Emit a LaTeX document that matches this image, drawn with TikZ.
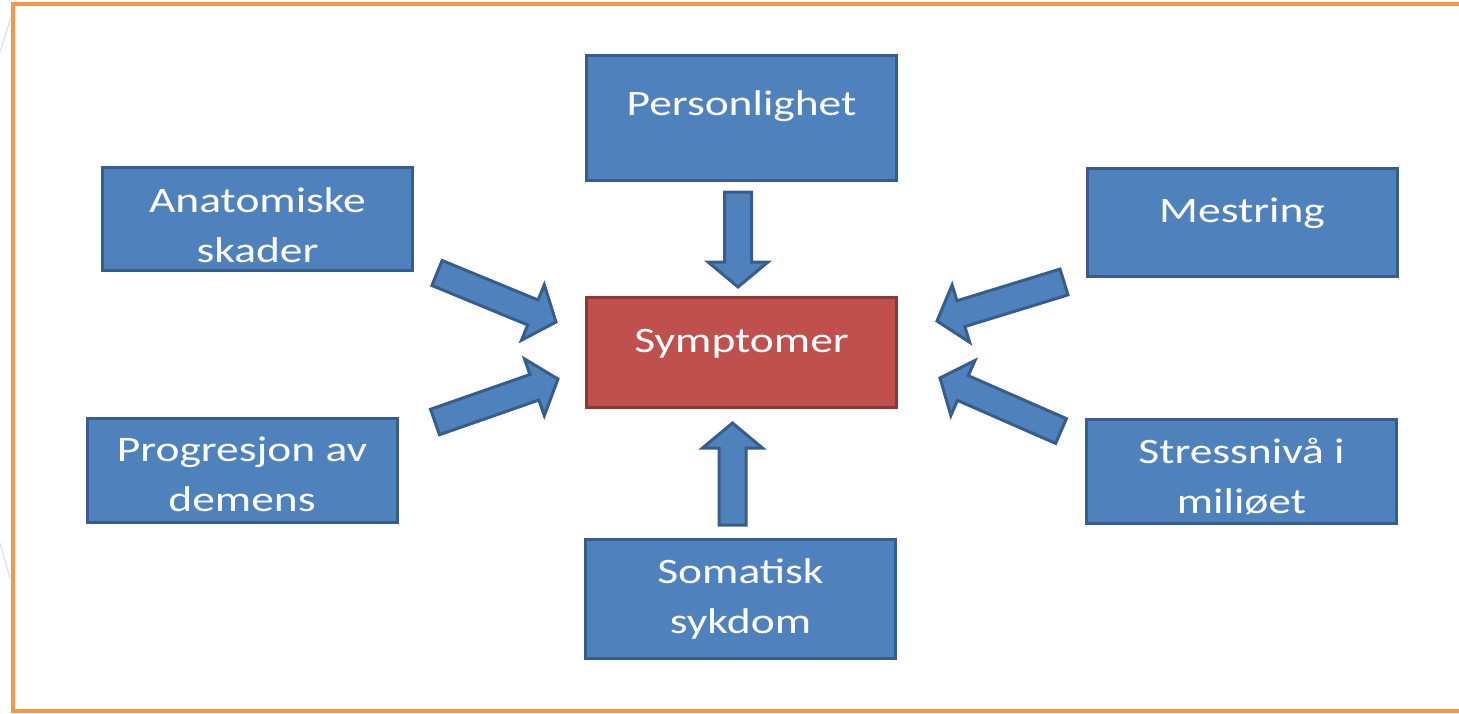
\documentclass[tikz,border=0pt]{standalone}
\usepackage{fontspec}
\setmainfont{Carlito}[FakeStretch=1.27]
\usepackage{tikz}
\usetikzlibrary{calc}

\definecolor{boxblue}{HTML}{4F81BD}
\definecolor{boxblueline}{HTML}{385D8A}
\definecolor{boxred}{HTML}{C0504D}
\definecolor{boxredline}{HTML}{8C3836}
\definecolor{frameorange}{HTML}{F79646}

\tikzset{
	box/.style={draw=boxblueline, fill=boxblue, line width=1.5pt, text=white,
		minimum width=155pt, inner sep=0pt, align=center,
		font=\fontsize{17.9pt}{25pt}\selectfont},
	redbox/.style={box, draw=boxredline, fill=boxred},
	oneline/.style={text height=6pt, text depth=6pt},
	twoline/.style={text height=46pt, text depth=5.5pt},
	fatarrow/.style={draw=boxblueline, fill=boxblue, line width=1.5pt},
	frame/.style={draw=frameorange, line width=2pt},
	ghostline/.style={draw=gray!25, line width=0.6pt}
}

% block arrow from #1 (tail) to #2 (tip)
\newcommand{\fatarrow}[2]{%
	\coordinate (fatc) at ($(#2)!12.5pt!(#1)$);
	\draw[fatarrow] ($(#1)!6.75pt!90:(#2)$) -- ($(fatc)!6.75pt!90:(#2)$) -- ($(fatc)!15pt!90:(#2)$)
		-- (#2) -- ($(fatc)!15pt!-90:(#2)$) -- ($(fatc)!6.75pt!-90:(#2)$) -- ($(#1)!6.75pt!-90:(#2)$) -- cycle;}

\begin{document}
\begin{tikzpicture}[x=0.5pt, y=-0.5pt]
			\useasboundingbox (0,0) rectangle (1459,713);
			\clip (0,0) rectangle (1459,713);

			\draw[ghostline] (0,52) -- (12,14);
			\draw[ghostline] (0,543) -- (10,578);
			\draw[frame] (13,4) rectangle (1500,711);

			\node[redbox, oneline, minimum height=55pt] (sym) at (741.5,352) {Symptomer};

			\node[box, text height=6pt, text depth=9pt, minimum height=62.5pt] (pers) at ($(sym)+(0,-234)$) {Personlighet};
			\node[box, text height=47pt, text depth=4pt, minimum height=51.5pt] (anat) at ($(sym)+(-484,-133)$) {Anatomiske\\skader};
			\node[box, oneline, minimum height=54pt] (mest) at ($(sym)+(500.5,-129.5)$) {Mestring};
			\node[box, twoline, minimum height=52pt] (prog) at ($(sym)+(-499.5,118.5)$) {Progresjon av\\demens};
			\node[box, text height=46.5pt, text depth=5pt, minimum height=52pt] (stress) at ($(sym)+(500,119.5)$) {Stressnivå i\\miliøet};
			\node[box, text height=40pt, text depth=6pt, minimum height=59.5pt] (soma) at ($(sym)+(-1,247)$) {Somatisk\\sykdom};

			%arrow ends, tail and tip
			\coordinate (top-a) at ($(sym)+(-3.5,-160)$);
			\coordinate (top-b) at ($(sym)+(-3.5,-65)$);
			\coordinate (bot-a) at ($(sym)+(-9,173)$);
			\coordinate (bot-b) at ($(sym)+(-9,71)$);
			\coordinate (lu-a) at ($(sym)+(-304.5,-79)$);
			\coordinate (lu-b) at ($(sym)+(-185.5,-30)$);
			\coordinate (ll-a) at ($(sym)+(-306.5,70)$);
			\coordinate (ll-b) at ($(sym)+(-183.5,27)$);
			\coordinate (ru-a) at ($(sym)+(322.5,-70)$);
			\coordinate (ru-b) at ($(sym)+(195.5,-31)$);
			\coordinate (rl-a) at ($(sym)+(319.5,79)$);
			\coordinate (rl-b) at ($(sym)+(198.5,26)$);

			\fatarrow{top-a}{top-b}
			\fatarrow{bot-a}{bot-b}
			\fatarrow{lu-a}{lu-b}
			\fatarrow{ll-a}{ll-b}
			\fatarrow{ru-a}{ru-b}
			\fatarrow{rl-a}{rl-b}

		\end{tikzpicture}
\end{document}
